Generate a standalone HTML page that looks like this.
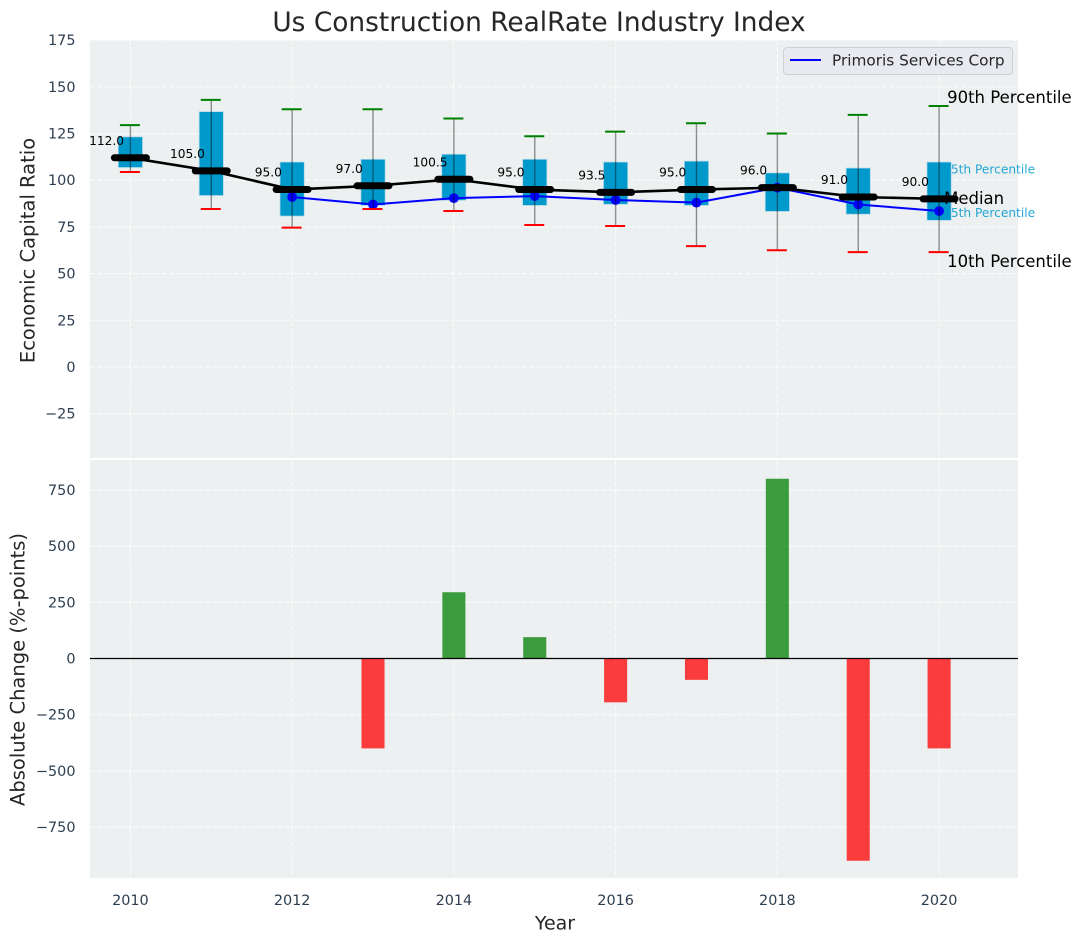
<!DOCTYPE html>
<html>
<head>
<meta charset="utf-8">
<title>Us Construction RealRate Industry Index</title>
<style>
html,body{margin:0;padding:0;background:#fff;}
svg{display:block;font-family:"DejaVu Sans","Liberation Sans",sans-serif;}
</style>
</head>
<body>
<svg id="chart" width="1082" height="942" viewBox="0 0 1082 942" xmlns="http://www.w3.org/2000/svg"></svg>
<script>
const years = [2010,2011,2012,2013,2014,2015,2016,2017,2018,2019,2020];
const p90 = [129.5,143,138,138,133,123.5,126,130.5,125,135,139.7];
const p75 = [123,136.5,109.5,111,113.7,111,109.5,110,103.7,106.3,109.5];
const medians = [112,105,95,97,100.5,95,93.5,95,96,91,90];
const p25 = [107,92,81,86.7,89.4,86.7,87.3,86.7,83.5,82,78.7];
const p10 = [104.4,84.6,74.6,84.6,83.5,76,75.5,64.7,62.5,61.5,61.5];
const companyYears = [2012,2013,2014,2015,2016,2017,2018,2019,2020];
const companyValues = [91,87,90.4,91.5,89.4,88,96,87,83.5];
const changeYears = [2013,2014,2015,2016,2017,2018,2019,2020];
const changeValues = [-400,295,95,-195,-95,800,-900,-400];
const xTicks = [2010,2012,2014,2016,2018,2020];
const topTicks = [175,150,125,100,75,50,25,0,-25];
const bottomTicks = [750,500,250,0,-250,-500,-750];

const NS = 'http://www.w3.org/2000/svg';
const svg = document.getElementById('chart');
const L = 90, R = 1018, T1 = 40, B1 = 458, T2 = 460, B2 = 878;
const xPos = v => 130.4 + (v - 2010) * 80.87;
const yTop = v => 367 - v * 1.868;
const yBot = v => 658.5 - v * 0.2247;
const xLen = v => v * 80.87;

function make(tag, props, parent) {
  const el = document.createElementNS(NS, tag);
  for (const k in props) el.setAttribute(k, props[k]);
  (parent || svg).appendChild(el);
  return el;
}
function label(str, props, parent) {
  const el = make('text', props, parent);
  el.textContent = str;
  return el;
}

const topBg = make('rect', {x:L, y:T1, width:R-L, height:B1-T1, fill:'#ecf0f1'});


const botBg = make('rect', {x:L, y:T2, width:R-L, height:B2-T2, fill:'#ecf0f1'});



const gridStyle = {stroke:'#ffffff', 'stroke-width':1, 'stroke-opacity':0.85, 'stroke-dasharray':'5 2.2'};
xTicks.forEach(t => {
  const a = make('line', Object.assign({x1:xPos(t), x2:xPos(t), y1:T1, y2:B1}, gridStyle));
  
  
  const b = make('line', Object.assign({x1:xPos(t), x2:xPos(t), y1:T2, y2:B2}, gridStyle));
  
  
  const tl = label(String(t), {x:xPos(t), y:905, 'text-anchor':'middle', 'font-size':14.4, fill:'#2c3e50'});
  
  
});
topTicks.forEach(t => {
  const g = make('line', Object.assign({x1:L, x2:R, y1:yTop(t), y2:yTop(t)}, gridStyle));
  
  
  const tl = label(String(t).replace('-', '\u2212'), {x:75.5, y:yTop(t)+5, 'text-anchor':'end', 'font-size':14.4, fill:'#2c3e50'});
  
  
});
bottomTicks.forEach(t => {
  const g = make('line', Object.assign({x1:L, x2:R, y1:yBot(t), y2:yBot(t)}, gridStyle));
  
  
  const tl = label(String(t).replace('-', '\u2212'), {x:75.5, y:yBot(t)+5, 'text-anchor':'end', 'font-size':14.4, fill:'#2c3e50'});
  
  
});

const lastIdx = years.length - 1;
const lastX = xPos(years[lastIdx]);
const t75 = label('75th Percentile', {x:lastX+4, y:yTop(p75[lastIdx])+11, 'font-size':12.2, fill:'#0099cc', 'fill-opacity':0.85});


const t25 = label('25th Percentile', {x:lastX+4, y:yTop(p25[lastIdx])-3, 'font-size':12.2, fill:'#0099cc', 'fill-opacity':0.85});



years.forEach((yr, i) => {
  const x = xPos(yr);
  const w = xLen(0.29);
  const box = make('rect', {x:x-w/2, y:yTop(p75[i]), width:w, height:yTop(p25[i])-yTop(p75[i]), fill:'#0099cc', stroke:'#0099cc', 'stroke-opacity':0.25, 'stroke-width':1.5});
  
  
});

const bluePts = companyYears.map((yr, i) => xPos(yr) + ',' + yTop(companyValues[i])).join(' ');
const blueLine = make('polyline', {points:bluePts, fill:'none', stroke:'#0000ff', 'stroke-width':2});


companyYears.forEach((yr, i) => {
  const m = make('circle', {cx:xPos(yr), cy:yTop(companyValues[i]), r:4.9, fill:'#0000ff'});
  
  
});

years.forEach((yr, i) => {
  const x = xPos(yr);
  const wh = make('line', {x1:x, x2:x, y1:yTop(p90[i]), y2:yTop(p10[i]), stroke:'#000', 'stroke-opacity':0.42, 'stroke-width':1.4});
  
  
  const hi = make('line', {x1:x-10.5, x2:x+9.5, y1:yTop(p90[i]), y2:yTop(p90[i]), stroke:'#008000', 'stroke-width':2});
  
  
  const lo = make('line', {x1:x-10.5, x2:x+9.5, y1:yTop(p10[i]), y2:yTop(p10[i]), stroke:'#ff0000', 'stroke-width':2});
  
  
});

const medPts = years.map((yr, i) => xPos(yr) + ',' + yTop(medians[i])).join(' ');
const medLine = make('polyline', {points:medPts, fill:'none', stroke:'#000', 'stroke-width':2.6});


years.forEach((yr, i) => {
  const x = xPos(yr);
  const seg = make('line', {x1:x-16, x2:x+16, y1:yTop(medians[i]), y2:yTop(medians[i]), stroke:'#000', 'stroke-width':7, 'stroke-linecap':'round'});
  
  
  const v = label(medians[i].toFixed(1), {x:x-23.8, y:yTop(medians[i])-13, 'text-anchor':'middle', 'font-size':12.2, fill:'#000'});
  
  
});

const t90 = label('90th Percentile', {x:lastX+8, y:yTop(p90[lastIdx])-3, 'font-size':16.5, fill:'#000'});


const tMed = label('Median', {x:lastX+5, y:yTop(medians[lastIdx])+5, 'font-size':16.5, fill:'#000'});


const t10 = label('10th Percentile', {x:lastX+8, y:yTop(p10[lastIdx])+15, 'font-size':16.5, fill:'#000'});



changeYears.forEach((yr, i) => {
  const v = changeValues[i];
  const w = xLen(0.285);
  const y0 = yBot(Math.max(v, 0));
  const y1 = yBot(Math.min(v, 0));
  const bar = make('rect', {x:xPos(yr)-w/2, y:y0, width:w, height:y1-y0, fill:v >= 0 ? '#008000' : '#ff0000', 'fill-opacity':0.75});
  
  
});
const zero = make('line', {x1:L, x2:R, y1:yBot(0), y2:yBot(0), stroke:'#000', 'stroke-width':1.2});



const legendBox = make('rect', {x:783.5, y:47.5, width:229, height:27, rx:3.5, fill:'#e8eaf0', stroke:'#cfcfd4', 'stroke-width':1});


const legendLine = make('line', {x1:790, x2:821, y1:60, y2:60, stroke:'#0000ff', 'stroke-width':2});


const legendText = label('Primoris Services Corp', {x:832, y:65.5, 'font-size':15.3, fill:'#262626'});



const title = label('Us Construction RealRate Industry Index', {x:539, y:31, 'text-anchor':'middle', 'font-size':26.4, fill:'#262626'});


const xTitle = label('Year', {x:555, y:929.5, 'text-anchor':'middle', 'font-size':19, fill:'#262626'});


const yTitle1 = label('Economic Capital Ratio', {x:0, y:0, transform:'translate(34.5,250.5) rotate(-90)', 'text-anchor':'middle', 'font-size':19.5, fill:'#262626'});


const yTitle2 = label('Absolute Change (%-points)', {x:0, y:0, transform:'translate(24.5,669.5) rotate(-90)', 'text-anchor':'middle', 'font-size':19.5, fill:'#262626'});


</script>
</body>
</html>
